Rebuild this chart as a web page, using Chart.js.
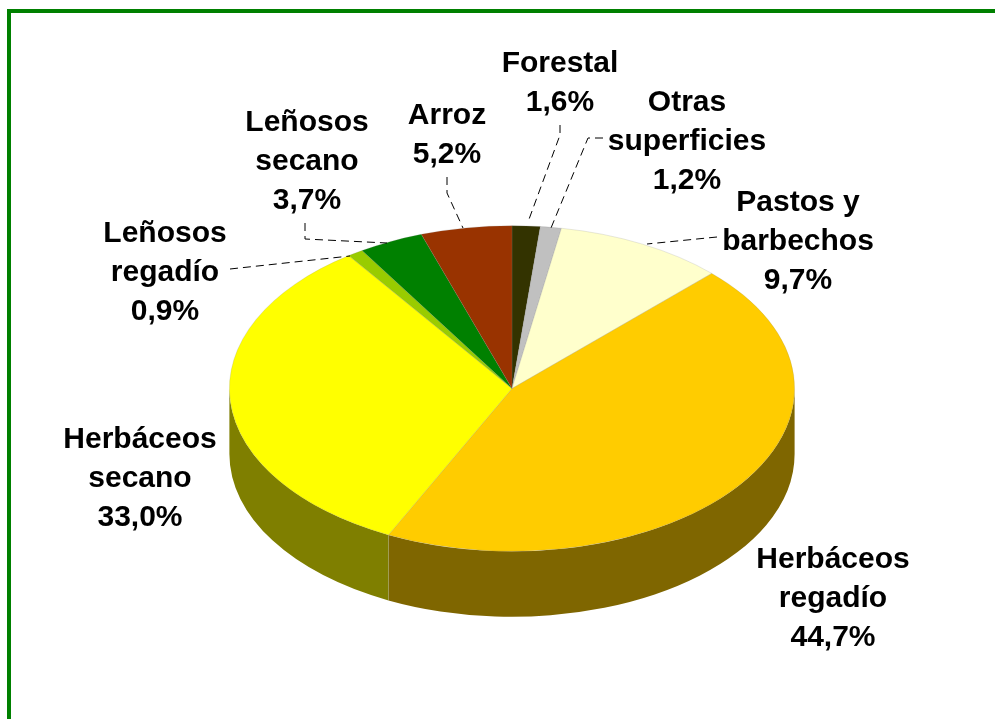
<!DOCTYPE html>
<html>
<head>
<meta charset="utf-8">
<script src="https://cdn.jsdelivr.net/npm/chart.js@4"></script>
<style>
  html, body { margin: 0; padding: 0; background: #fff; overflow: hidden; }
  #frame { position: absolute; left: 7px; top: 9px; width: 988px; height: 710px; box-sizing: border-box;
           border-left: 4px solid #008000; border-top: 4px solid #008000; }
  #myChart { position: absolute; left: 0; top: 0; }
</style>
</head>
<body>
<div id="frame"></div>
<canvas id="myChart" width="995" height="719"></canvas>
<script>
'use strict'
const categories = ['Forestal', 'Otras\nsuperficies', 'Pastos y\nbarbechos', 'Herbáceos\nregadío',
  'Herbáceos\nsecano', 'Leñosos\nregadío', 'Leñosos\nsecano', 'Arroz'];
const shares = [1.6, 1.2, 9.7, 44.7, 33.0, 0.9, 3.7, 5.2];

const sliceColors = ['#333300', '#C0C0C0', '#FFFFCC', '#FFCC00', '#FFFF00', '#99CC00', '#008000', '#993300'];

// label centre x and first line middle y, same order as categories
const labelSpots = [[560, 64], [687, 103], [798, 203], [833, 560], [140, 440], [165, 234], [307, 123], [447, 116]];
const lineGap = 38.7;

// dashed leader lines drawn by hand in the original
const leaders = [
  [[560, 125], [560, 135], [528, 222]],
  [[603, 138], [588, 138], [551, 228]],
  [[717, 237], [647, 244]],
  [],
  [],
  [[230, 269], [350, 256]],
  [[305, 223], [305, 239], [387, 243]],
  [[447, 177], [447, 193], [463, 228]]
];

const squash = 163 / 283;  // top face of the pie is an ellipse
const depth = 65.5;

const darker = (hex) => {
  const n = parseInt(hex.slice(1), 16);
  return `rgb(${(n >> 16) >> 1},${((n >> 8) & 255) >> 1},${(n & 255) >> 1})`;
};

const pie3d = {
  id: 'pie3d',
  beforeDatasetsDraw(chart) {
    const ctx = chart.ctx;
    const arcs = chart.getDatasetMeta(0).data;
    // side wall, only the front half of the rim shows
    arcs.forEach((arc, i) => {
      const from = Math.max(arc.startAngle, 0);
      const to = Math.min(arc.endAngle, Math.PI);
      if (to <= from) return;
      const rx = arc.outerRadius;
      const ry = rx * squash;
      ctx.beginPath();
      ctx.ellipse(arc.x, arc.y, rx, ry, 0, from, to);
      ctx.ellipse(arc.x, arc.y + depth, rx, ry, 0, to, from, true);
      ctx.closePath();
      ctx.fillStyle = darker(sliceColors[i]);
      ctx.fill();
      if (to < Math.PI) {
        // seam between two wall pieces
        const sx = arc.x + rx * Math.cos(to);
        const sy = arc.y + ry * Math.sin(to);
        ctx.beginPath();
        ctx.moveTo(sx, sy);
        ctx.lineTo(sx, sy + depth);
        ctx.strokeStyle = 'rgba(190,190,190,0.6)';
        ctx.lineWidth = 1;
        ctx.stroke();
      }
    });
    const c = arcs[0];
    ctx.save();
    ctx.translate(c.x, c.y);
    ctx.scale(1, squash);
    ctx.translate(-c.x, -c.y);
  },
  afterDatasetsDraw(chart) {
    chart.ctx.restore();
  },
  afterDraw(chart) {
    const ctx = chart.ctx;
    ctx.save();
    ctx.strokeStyle = '#000';
    ctx.lineWidth = 1;
    ctx.setLineDash([8, 5]);
    leaders.forEach((line) => {
      if (!line.length) return;
      ctx.beginPath();
      line.forEach((p, j) => j ? ctx.lineTo(p[0], p[1]) : ctx.moveTo(p[0], p[1]));
      ctx.stroke();
    });
    ctx.setLineDash([]);
    ctx.fillStyle = '#000';
    ctx.font = 'bold 30px "Liberation Sans"';
    ctx.textAlign = 'center';
    ctx.textBaseline = 'middle';
    categories.forEach((name, i) => {
      const lines = name.split('\n');
      lines.push(shares[i].toFixed(1).replace('.', ',') + '%');
      lines.forEach((txt, j) => ctx.fillText(txt, labelSpots[i][0], labelSpots[i][1] + j * lineGap));
    });
    ctx.restore();
  }
};

new Chart(document.getElementById('myChart'), {
  type: 'pie',
  data: {
    labels: categories,
    datasets: [{
      data: shares,
      backgroundColor: sliceColors,
      borderColor: 'rgba(128,128,128,0.3)',
      borderWidth: 0.8
    }]
  },
  options: {
    responsive: false,
    animation: false,
    layout: { padding: { left: 229, right: 200, top: 105, bottom: 47 } },
    plugins: { legend: { display: false }, tooltip: { enabled: false } }
  },
  plugins: [pie3d]
});
</script>
</body>
</html>
